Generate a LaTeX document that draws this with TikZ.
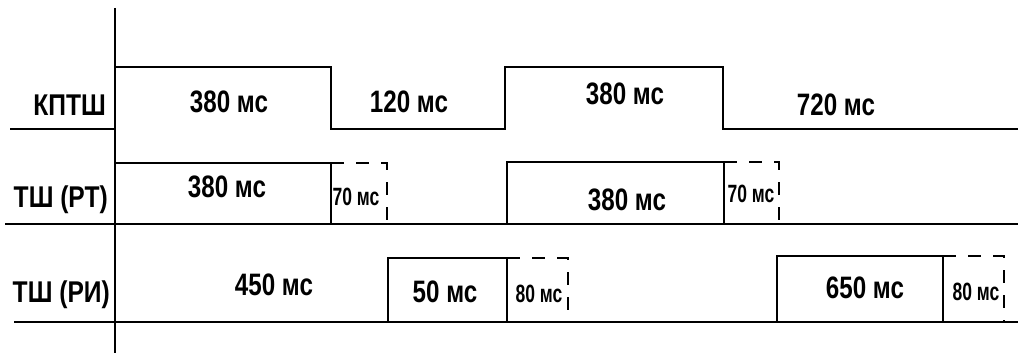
\documentclass[tikz,border=0pt]{standalone}
\usepackage{fontspec}
\setmainfont{Liberation Sans}[FakeStretch=0.82]
\newfontfamily\lblf{Liberation Sans}[FakeStretch=0.78]
\newfontfamily\smlf{Liberation Sans}[FakeStretch=0.7]
\begin{document}
\begin{tikzpicture}[x=1pt,y=-1pt,
  lbl/.style={font=\lblf\fontsize{31}{31}\selectfont\bfseries, inner sep=0, anchor=base},
  sml/.style={font=\smlf\fontsize{25}{25}\selectfont\bfseries, inner sep=0, anchor=base},
  rowlbl/.style={font=\fontsize{30}{30}\selectfont\bfseries, inner sep=0, anchor=base east},
  sig/.style={line width=2.2pt},
  dsh/.style={line width=2.2pt, dash pattern=on 13pt off 12pt}]
\useasboundingbox (0,0) rectangle (1018,353);
% axis
\coordinate (axT) at (115,8);
\coordinate (axB) at (115,353);
\draw[sig] (axT) -- (axB);
% KPTSh
\draw[sig] (10,129) -- (115,129) -- (115,67) -- (331,67) -- (331,129) -- (505,129) -- (505,67) -- (723,67) -- (723,129) -- (1018,129);
% TSh (RT)
\draw[sig] (5,224) -- (1018,224);
\draw[sig] (115,163) -- (331,163) -- (331,224);
\draw[dsh] (331,163) -- (387,163) -- (387,224);
\draw[sig] (507,224) -- (507,162) -- (724,162) -- (724,224);
\draw[dsh] (724,162) -- (779,162) -- (779,224);
% TSh (RI)
\draw[sig] (14,322) -- (1018,322);
\draw[sig] (388,322) -- (388,258) -- (507,258) -- (507,322);
\draw[dsh] (507,258) -- (568,258) -- (568,322);
\draw[sig] (777,322) -- (777,256) -- (943,256) -- (943,322);
\draw[dsh] (943,256) -- (1004,256) -- (1004,322);
% row labels
\node[rowlbl] (lk) at (106,115) {КПТШ};
\node[rowlbl] (lt) at (108,207) {ТШ (РТ)};
\node[rowlbl] (lr) at (110,302) {ТШ (РИ)};
% texts
\node[lbl] (k1) at (229,112) {380 мс};
\node[lbl] (k2) at (409,113) {120 мс};
\node[lbl] (k3) at (625,105) {380 мс};
\node[lbl] (k4) at (836,115) {720 мс};
\node[lbl] (t1) at (227,197) {380 мс};
\node[sml] (t1s) at (356,205) {70 мс};
\node[lbl] (t2) at (627,210) {380 мс};
\node[sml] (t2s) at (751,202) {70 мс};
\node[lbl] (r0) at (274,295) {450 мс};
\node[lbl] (r1) at (445,302) {50 мс};
\node[sml] (r1s) at (539,302) {80 мс};
\node[lbl] (r2) at (865,298) {650 мс};
\node[sml] (r2s) at (976,300) {80 мс};
\end{tikzpicture}
\end{document}
